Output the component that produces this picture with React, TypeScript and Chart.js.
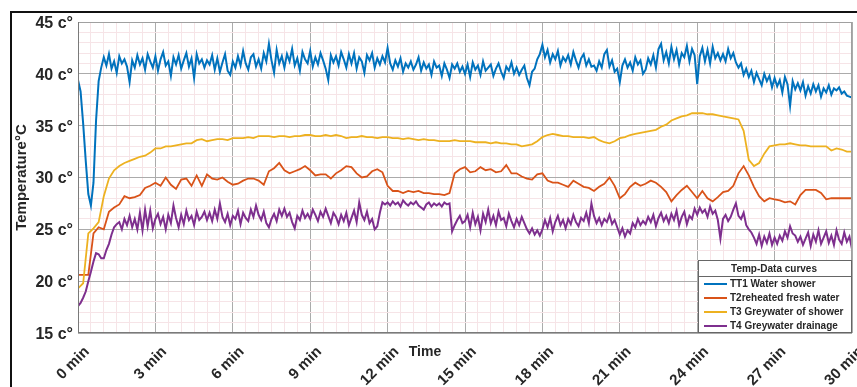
import React, { useEffect, useRef } from 'react';
import { Chart, registerables } from 'chart.js';

Chart.register(...registerables);

// Sampling intervals (minutes)
const FINE_STEP = 0.1; // TT1 and T4
const COARSE_STEP = 0.2; // T2 and T3

const SERIES_LABELS = [
  'TT1 Water shower',
  'T2reheated fresh water',
  'T3 Greywater of shower',
  'T4 Greywater drainage',
];
const SERIES_COLORS = ['#0072BD', '#D95319', '#EDB120', '#7E2F8E'];
const LEGEND_TITLE = 'Temp-Data curves';
const X_TITLE = 'Time';
const Y_TITLE = 'Temperature°C';

const X_MAJOR_MINUTES = [0, 3, 6, 9, 12, 15, 18, 21, 24, 27, 30];
const Y_MAJOR_DEGREES = [15, 20, 25, 30, 35, 40, 45];

// TT1 Water shower, every 0.1 min
const tt1WaterShower = [
  39.4, 38.3, 35.2, 31.6, 28.4, 27.3, 29.5, 35.5, 39.3, 40.6,
  41.6, 40.8, 41.9, 40.5, 41.2, 40.1, 41.7, 41.0, 41.4, 40.7,
  39.2, 41.3, 40.6, 41.8, 40.9, 41.5, 40.4, 41.9, 41.2, 40.6,
  41.7, 40.3, 41.4, 42.1, 40.8, 41.2, 39.8, 41.6, 40.9, 41.8,
  40.5, 41.3, 42.0, 40.7, 41.5, 39.6, 41.9, 41.0, 41.4, 40.6,
  41.3, 40.9, 41.8, 40.4, 41.5, 40.2, 41.1, 41.9, 40.3, 39.9,
  41.2, 40.6, 41.7, 40.8, 42.2, 41.0, 40.4, 41.6, 41.9, 40.7,
  41.4, 40.5, 42.0, 41.2, 42.9, 41.3, 40.1, 42.3, 41.0, 41.7,
  40.6, 41.9, 41.2, 42.4, 40.8, 41.5, 40.3, 42.1, 41.4, 41.0,
  42.2, 40.7, 41.6, 40.9, 42.0, 41.3, 40.5, 39.4, 41.8, 41.1,
  41.7, 40.8, 42.1, 41.4, 40.6, 41.9, 41.0, 42.0, 40.5, 41.6,
  41.2, 40.1, 41.8, 41.3, 42.0, 40.6, 41.5, 40.9, 41.7, 41.1,
  42.5, 41.0, 40.4, 41.3, 40.7, 41.5, 40.2, 41.0, 40.6, 41.2,
  40.4, 40.9, 41.6, 40.3, 41.1, 40.5, 40.9, 39.9, 41.2, 40.6,
  40.8, 39.8, 41.0, 40.4, 39.6, 40.9, 40.5, 41.0, 40.2, 40.7,
  40.0, 40.9, 39.7, 41.1, 40.4, 40.8, 39.9, 41.2, 40.3, 40.6,
  40.9, 39.8, 40.5, 41.0, 40.2, 39.6, 40.7, 40.3, 41.1, 40.0,
  40.6, 39.9, 40.4, 40.8, 39.6, 38.9, 40.2, 40.5, 41.4, 41.9,
  42.8, 41.6, 42.3, 41.1, 41.9, 41.4, 42.2, 40.8, 41.6, 41.2,
  41.8, 40.9, 42.1, 41.3, 40.6, 41.5, 41.9, 40.8, 41.4, 40.7,
  40.8, 40.3, 41.2, 40.6, 41.9, 42.3, 40.7, 41.3, 40.2, 40.5,
  39.2, 40.8, 41.4, 40.6, 41.1, 40.3, 41.6, 40.9, 41.3, 40.0,
  40.4, 41.5, 40.9, 41.8, 40.6, 42.4, 42.9, 41.3, 42.1, 41.0,
  42.6, 41.4, 42.3, 40.9, 42.0, 41.6, 42.7, 41.2, 42.4, 41.8,
  39.0, 41.7, 42.5, 41.2, 42.3, 41.0, 42.6, 41.5, 42.0, 41.3,
  41.9, 41.2, 42.4, 41.5, 42.0, 41.1, 40.6, 41.0, 39.9, 40.5,
  39.7, 40.3, 39.2, 40.1, 39.5, 38.9, 40.0, 39.3, 39.8, 38.7,
  39.6, 38.8, 39.4, 38.2, 39.7, 39.0, 36.9, 39.3, 38.5, 39.1,
  38.4, 39.2, 37.9, 38.8, 38.1, 39.0, 38.3, 38.9, 37.8, 38.6,
  38.2, 38.9, 38.0, 38.6, 38.4, 38.7, 38.1, 38.3, 37.9, 37.8,
  37.7,
];

// T2 reheated fresh water, every 0.2 min
const t2ReheatedFreshWater = [
  20.6, 20.6, 20.6, 24.6, 25.2, 25.0, 26.7, 27.1, 27.4, 28.2,
  28.0, 28.1, 28.3, 29.0, 29.2, 29.5, 29.2, 30.0, 29.3, 28.9,
  29.8, 29.9, 29.2, 30.2, 29.2, 30.3, 29.9, 29.8, 30.0, 29.6,
  29.3, 29.4, 29.7, 29.9, 29.9, 29.7, 29.3, 30.6, 30.9, 31.4,
  30.7, 30.4, 30.6, 30.8, 31.1, 30.7, 30.2, 30.3, 30.3, 29.9,
  30.4, 30.7, 31.1, 31.0, 30.4, 30.0, 30.1, 30.6, 30.8, 30.5,
  29.2, 28.7, 28.7, 28.5, 28.7, 28.6, 28.7, 28.5, 28.5, 28.4,
  28.4, 28.3, 28.5, 30.4, 30.8, 31.0, 30.5, 30.6, 31.0, 30.7,
  30.8, 30.5, 30.6, 31.2, 30.4, 30.4, 30.1, 29.9, 29.8, 30.3,
  30.4, 29.7, 29.5, 29.5, 29.3, 29.1, 29.7, 29.4, 29.1, 29.0,
  28.7, 29.1, 29.4, 30.0, 29.2, 28.0, 28.4, 29.1, 29.5, 29.2,
  29.4, 29.7, 29.5, 29.1, 28.6, 27.7, 28.3, 28.8, 29.2, 28.6,
  28.0, 28.7, 28.0, 27.7, 28.1, 28.6, 28.7, 29.2, 30.4, 31.1,
  30.2, 29.1, 28.2, 27.7, 28.0, 27.9, 27.8, 27.6, 27.7, 27.4,
  28.3, 28.8, 28.8, 28.8, 28.5, 27.9, 28.0, 28.0, 28.0, 28.0,
  28.0,
];

// T3 greywater of shower, every 0.2 min
const t3GreywaterShower = [
  19.3, 19.8, 24.6, 25.1, 25.7, 28.2, 29.9, 30.7, 31.1, 31.4,
  31.6, 31.8, 32.0, 32.1, 32.4, 32.8, 32.8, 33.0, 33.0, 33.1,
  33.2, 33.3, 33.3, 33.6, 33.7, 33.5, 33.6, 33.7, 33.7, 33.6,
  33.8, 33.8, 33.8, 33.9, 33.8, 34.0, 34.0, 34.0, 33.9, 34.0,
  34.0, 33.9, 34.0, 34.0, 34.1, 34.1, 34.0, 34.0, 34.1, 34.0,
  34.1, 34.0, 33.8, 33.9, 33.9, 34.0, 33.9, 33.9, 33.8, 33.9,
  33.9, 33.8, 33.8, 33.7, 33.8, 33.7, 33.6, 33.7, 33.6, 33.6,
  33.5, 33.5, 33.5, 33.6, 33.5, 33.5, 33.5, 33.4, 33.4, 33.4,
  33.3, 33.4, 33.3, 33.3, 33.2, 33.2, 33.0, 33.1, 33.2, 33.5,
  33.9, 34.1, 34.2, 34.1, 34.0, 34.0, 33.9, 33.9, 33.9, 33.8,
  33.9, 33.6, 33.4, 33.3, 33.5, 33.8, 33.9, 34.1, 34.2, 34.3,
  34.4, 34.5, 34.6, 34.9, 35.1, 35.5, 35.7, 35.9, 36.0, 36.2,
  36.2, 36.2, 36.1, 36.1, 36.0, 35.9, 35.8, 35.7, 35.6, 34.5,
  31.7, 31.1, 31.4, 32.3, 33.0, 33.1, 33.2, 33.2, 33.3, 33.2,
  33.1, 33.1, 33.0, 33.0, 33.0, 33.0, 32.6, 32.8, 32.7, 32.5,
  32.5,
];

// T4 greywater drainage, every 0.1 min
const t4GreywaterDrainage = [
  17.6, 17.9, 18.4, 19.0, 20.0, 20.9, 21.9, 22.7, 22.6, 22.2,
  22.2, 23.0, 23.6, 24.5, 25.2, 25.5, 25.7, 25.0, 26.0, 25.4,
  26.3, 25.2, 26.0, 25.0, 26.6, 24.9, 26.9, 25.3, 26.8, 25.1,
  26.0, 26.5, 25.5, 26.2, 25.0, 26.4, 25.6, 27.3, 26.1, 25.2,
  26.4, 25.5, 26.8, 25.9, 26.3, 25.4, 26.7, 25.9, 26.2, 26.7,
  25.9, 26.6, 25.8, 26.9, 26.0, 27.5, 26.2, 25.7, 26.5, 25.4,
  26.3, 26.0, 26.8, 25.5, 26.6, 26.1, 25.8, 26.9, 26.2, 27.3,
  26.4, 25.9, 26.7, 25.6, 25.2, 26.0, 26.5, 25.8, 26.9, 26.3,
  27.0, 26.2, 26.6, 25.7, 25.1, 26.3, 25.9, 26.8, 26.1, 26.5,
  26.0, 26.9, 26.4, 25.8, 26.7, 26.2, 27.0, 26.3, 25.6, 26.6,
  26.2, 25.5, 26.4, 25.8, 26.6, 25.4, 26.1, 26.8, 25.7, 27.6,
  26.4, 25.9, 26.7, 25.6, 26.0, 25.0, 25.3, 26.6, 27.6, 27.4,
  27.6, 27.3, 27.7, 27.4, 27.6, 27.2, 27.8, 27.5, 27.3, 27.6,
  27.4, 27.7, 27.3, 27.1, 26.9, 27.4, 27.6, 27.2, 27.5, 27.3,
  27.5, 27.2, 27.6, 27.4, 27.5, 24.8, 25.4, 25.9, 26.3, 25.6,
  25.8, 26.4, 25.2, 26.6, 25.5, 26.2, 24.9, 26.5, 25.7, 26.9,
  25.6, 26.3, 25.4, 26.7, 25.9, 26.1, 25.3, 26.5, 25.8, 25.2,
  26.0, 25.4, 26.2, 25.6, 25.0, 24.6, 25.1, 24.5, 24.9, 24.4,
  25.0, 25.9, 25.2, 26.1, 24.8, 25.7, 26.3, 25.4, 25.9, 25.1,
  26.0, 25.5, 26.4, 25.7, 25.3, 26.1, 25.8, 26.6, 25.6, 27.5,
  26.3, 25.6, 26.1, 25.4, 26.0, 25.7, 26.4, 25.5, 25.9, 25.2,
  24.5, 25.1, 24.3, 24.9, 24.6, 25.6, 25.2, 26.0, 25.4, 25.8,
  25.5, 26.2, 25.7, 26.4, 25.3, 26.1, 26.6, 25.8, 26.3, 25.6,
  26.5, 25.9, 26.8, 25.4, 26.2, 26.7, 25.5, 26.3, 26.0, 27.0,
  26.4, 27.1, 26.6, 26.9, 26.2, 27.2, 26.5, 26.8, 25.9, 24.1,
  26.0, 26.4, 25.8, 26.2, 26.9, 27.5, 26.3, 26.0, 26.6, 25.4,
  25.0, 24.7, 24.2, 23.6, 24.5, 23.4, 24.3, 23.7, 24.6, 23.5,
  24.2, 23.6, 24.4, 23.9, 24.8, 24.2, 25.3, 24.6, 24.4, 23.8,
  24.3, 23.5, 24.1, 24.7, 23.4, 24.5, 23.8, 24.9, 23.6, 24.2,
  24.8, 23.7, 24.4, 23.5, 24.9, 24.0, 23.6, 24.7, 23.8, 24.3,
  23.1,
];

const FONT = '"Liberation Sans", Arial, Helvetica, sans-serif';
const TEXT_COLOR = '#262626';
const MAJOR_GRID = '#ababab';
const MINOR_GRID = '#f6e4e7';

const asSeries = (values: number[], step: number) =>
  values.map((y, i) => ({ x: Math.round(i * step * 100) / 100, y }));

const isOneOf = (list: number[], v: number) => list.some((t) => Math.abs(t - v) < 1e-6);

// Figure frame, axes box, x-axis title and the boxed legend
const decorations = {
  id: 'decorations',
  beforeDraw(chart: any) {
    const { ctx, width, height } = chart;
    ctx.save();
    ctx.fillStyle = '#ffffff';
    ctx.fillRect(0, 0, width, height);
    ctx.fillStyle = '#111111';
    ctx.fillRect(10, 11, width - 10, 2);
    ctx.fillRect(10, 11, 2, height - 11);
    ctx.restore();
  },
  afterDraw(chart: any) {
    const { ctx, chartArea: a, scales } = chart;
    ctx.save();
    // axes box
    ctx.strokeStyle = '#a0a0a0';
    ctx.lineWidth = 1;
    ctx.strokeRect(Math.round(a.left) + 0.5, Math.round(a.top) + 0.5,
      Math.round(a.right - a.left) - 1, Math.round(a.bottom - a.top) - 1);
    ctx.strokeStyle = '#7a7a7a';
    ctx.beginPath();
    ctx.moveTo(Math.round(a.left) + 0.5, Math.round(a.top));
    ctx.lineTo(Math.round(a.left) + 0.5, Math.round(a.bottom));
    ctx.moveTo(Math.round(a.left), Math.round(a.bottom) - 0.5);
    ctx.lineTo(Math.round(a.right), Math.round(a.bottom) - 0.5);
    ctx.stroke();

    // x-axis title
    ctx.fillStyle = TEXT_COLOR;
    ctx.font = `bold 14px ${FONT}`;
    ctx.textAlign = 'center';
    ctx.textBaseline = 'middle';
    ctx.fillText(X_TITLE, scales.x.getPixelForValue(13.45), a.bottom + 19);

    // legend
    const w = 154;
    const h = 73;
    const x0 = Math.round(a.right) - w;
    const y0 = Math.round(a.bottom) - h;
    ctx.fillStyle = '#ffffff';
    ctx.fillRect(x0, y0, w, h);
    ctx.strokeStyle = '#666666';
    ctx.strokeRect(x0 + 0.5, y0 + 0.5, w - 1, h - 1);
    ctx.beginPath();
    ctx.moveTo(x0, y0 + 16.5);
    ctx.lineTo(x0 + w, y0 + 16.5);
    ctx.stroke();
    ctx.fillStyle = TEXT_COLOR;
    ctx.font = `bold 10px ${FONT}`;
    ctx.fillText(LEGEND_TITLE, x0 + 76, y0 + 9);
    ctx.textAlign = 'left';
    chart.data.datasets.forEach((ds: any, i: number) => {
      const y = y0 + 24 + i * 14;
      ctx.strokeStyle = ds.borderColor;
      ctx.lineWidth = 2;
      ctx.beginPath();
      ctx.moveTo(x0 + 6, y);
      ctx.lineTo(x0 + 29, y);
      ctx.stroke();
      ctx.fillStyle = TEXT_COLOR;
      ctx.fillText(ds.label, x0 + 32, y + 0.5);
    });
    ctx.restore();
  },
};

export default function App() {
  const canvasRef = useRef<HTMLCanvasElement>(null);

  useEffect(() => {
    const seriesValues = [tt1WaterShower, t2ReheatedFreshWater, t3GreywaterShower, t4GreywaterDrainage];
    const seriesSteps = [FINE_STEP, COARSE_STEP, COARSE_STEP, FINE_STEP];
    const widths = [2, 1.8, 1.8, 2];

    const chart = new Chart(canvasRef.current as HTMLCanvasElement, {
      type: 'line',
      data: {
        datasets: seriesValues.map((vals, i) => ({
          label: SERIES_LABELS[i],
          data: asSeries(vals, seriesSteps[i]),
          borderColor: SERIES_COLORS[i],
          backgroundColor: SERIES_COLORS[i],
          borderWidth: widths[i],
          pointRadius: 0,
          tension: 0,
          order: 4 - i,
        })),
      },
      options: {
        responsive: false,
        animation: false,
        layout: { padding: { left: 0, right: 5, top: 22, bottom: 0 } },
        plugins: { legend: { display: false }, tooltip: { enabled: false } },
        scales: {
          x: {
            type: 'linear',
            min: 0,
            max: 30,
            afterFit: (s: any) => {
              s.height = 54;
              s.paddingLeft = 0;
              s.paddingRight = 0;
            },
            border: { display: false },
            grid: {
              drawTicks: false,
              lineWidth: 1,
              color: (c: any) => (c.tick && isOneOf(X_MAJOR_MINUTES, c.tick.value) ? MAJOR_GRID : MINOR_GRID),
            },
            ticks: {
              stepSize: 0.5,
              autoSkip: false,
              minRotation: 45,
              maxRotation: 45,
              padding: 10,
              labelOffset: 9,
              color: TEXT_COLOR,
              font: { family: FONT, size: 15, weight: 'bold' },
              callback: (v: any) => (isOneOf(X_MAJOR_MINUTES, Number(v)) ? `${Math.round(Number(v))} min` : ''),
            },
          },
          y: {
            type: 'linear',
            min: 15,
            max: 45,
            afterFit: (s: any) => {
              s.width = 78;
              s.paddingTop = 0;
              s.paddingBottom = 0;
            },
            border: { display: false },
            grid: {
              drawTicks: false,
              lineWidth: 1,
              color: (c: any) => (c.tick && isOneOf(Y_MAJOR_DEGREES, c.tick.value) ? MAJOR_GRID : MINOR_GRID),
            },
            title: {
              display: true,
              text: Y_TITLE,
              color: TEXT_COLOR,
              font: { family: FONT, size: 15, weight: 'bold' },
              padding: { top: 13, bottom: 0 },
            },
            ticks: {
              stepSize: 1,
              autoSkip: false,
              padding: 5,
              labelOffset: 1.5,
              color: TEXT_COLOR,
              font: { family: FONT, size: 16, weight: 'bold' },
              callback: (v: any) => (isOneOf(Y_MAJOR_DEGREES, Number(v)) ? `${Math.round(Number(v))} c°` : ''),
            },
          },
        },
      },
      plugins: [decorations],
    } as any);

    return () => chart.destroy();
  }, []);

  return (
    <div style={{ position: 'absolute', left: 0, top: 0, width: 857, height: 387, background: '#fff' }}>
      <canvas ref={canvasRef} width={857} height={387} style={{ display: 'block' }} />
    </div>
  );
}
